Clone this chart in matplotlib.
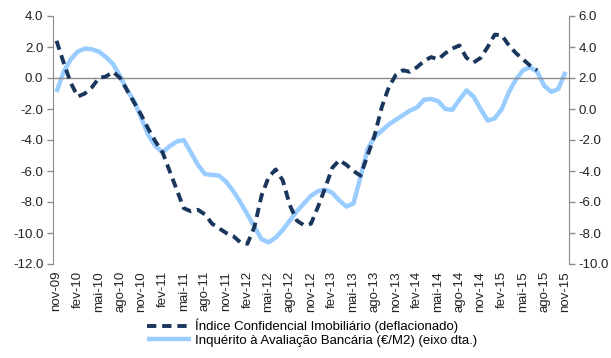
import matplotlib
matplotlib.use("Agg")
import matplotlib.pyplot as plt
import numpy as np

plt.rcParams['font.family'] = ['Liberation Sans', 'DejaVu Sans']

# meses: nov-09 .. nov-15
meses_pt = ['jan', 'fev', 'mar', 'abr', 'mai', 'jun', 'jul', 'ago', 'set', 'out', 'nov', 'dez']
n_meses = 73
rotulos = []
for k in range(n_meses):
    m = (10 + k) % 12
    a = 9 + (10 + k) // 12
    rotulos.append(f"{meses_pt[m]}-{a:02d}")

# Índice Confidencial Imobiliário (deflacionado), eixo esq.
ici = [2.4, 1.0, -0.3, -1.2, -1.0, -0.6, 0.0, 0.1, 0.4, 0.0,
       -0.8, -1.6, -2.4, -3.3, -4.1, -4.8, -6.0, -7.2, -8.4, -8.6,
       -8.5, -8.8, -9.4, -9.7, -10.0, -10.2, -10.6, -10.7, -9.6, -7.6,
       -6.4, -5.9, -6.6, -8.2, -9.2, -9.5, -9.4, -8.3, -7.1, -5.8,
       -5.3, -5.6, -6.0, -6.3, -5.0, -3.7, -1.9, -0.6, 0.2, 0.5,
       0.4, 0.7, 1.1, 1.35, 1.2, 1.6, 1.9, 2.1, 1.3, 1.0,
       1.3, 2.0, 2.8, 2.75, 2.1, 1.6, 1.2, 0.8, 0.5]

# Inquérito à Avaliação Bancária (€/M2), eixo dta.
iab = [1.1, 2.4, 3.2, 3.7, 3.9, 3.85, 3.7, 3.35, 2.9, 2.1,
       1.2, 0.5, -0.6, -1.7, -2.4, -2.8, -2.4, -2.1, -2.0, -2.8,
       -3.6, -4.2, -4.25, -4.3, -4.7, -5.3, -6.0, -6.8, -7.6, -8.4,
       -8.6, -8.3, -7.8, -7.2, -6.6, -6.1, -5.6, -5.3, -5.2, -5.4,
       -5.9, -6.3, -6.1, -4.4, -2.6, -1.8, -1.4, -1.0, -0.7, -0.4,
       -0.1, 0.1, 0.6, 0.65, 0.5, 0.0, -0.05, 0.6, 1.2, 0.8,
       0.0, -0.75, -0.6, 0.0, 1.1, 1.9, 2.5, 2.7, 2.4, 1.5,
       1.1, 1.3, 2.4]

cor_esc = '#1b365d'
cor_cla = '#99ccff'
cinza = '#8c8c8c'

fig = plt.figure(figsize=(6.11, 3.58), dpi=100)
ax = fig.add_axes([53/611, 1-264/358, (569-53)/611, (264-16)/358])
ax2 = ax.twinx()

l2, = ax2.plot(np.arange(len(iab)), iab, color=cor_cla, lw=3.2,
               solid_joinstyle='round', solid_capstyle='butt')
l1, = ax.plot(np.arange(len(ici)), ici, color=cor_esc, lw=2.8,
              linestyle=(0, (2.4, 1.5)), dash_capstyle='butt')
ax.set_zorder(ax2.get_zorder() + 1)
ax.patch.set_visible(False)

ax.axhline(0, color=cinza, lw=1, zorder=0)

ax.set_xlim(-0.5, n_meses - 0.5)
ax.set_ylim(-12, 4)
ax2.set_ylim(-10, 6)
ax.set_yticks(np.arange(-12, 4.1, 2))
ax2.set_yticks(np.arange(-10, 6.1, 2))
ax.set_yticklabels([f"{v:.1f}" for v in np.arange(-12, 4.1, 2)])
ax2.set_yticklabels([f"{v:.1f}" for v in np.arange(-10, 6.1, 2)])

pos = np.arange(0, n_meses, 3)
ax.set_xticks(pos)
ax.set_xticklabels([rotulos[p] for p in pos], rotation=90)
ax.tick_params(axis='x', length=0, pad=5, labelsize=9.5, colors='#222222')
ax.tick_params(axis='y', direction='out', length=4, width=1, color=cinza,
               labelsize=9.5, labelcolor='#222222', pad=3)
ax2.tick_params(axis='y', direction='out', length=4, width=1, color=cinza,
                labelsize=9.5, labelcolor='#222222', pad=3)

for a in (ax, ax2):
    a.spines['top'].set_visible(False)
    a.spines['bottom'].set_visible(False)
ax.spines['right'].set_visible(False)
ax2.spines['left'].set_visible(False)
ax.spines['left'].set_color(cinza)
ax2.spines['right'].set_color(cinza)

fig.legend([l1, l2],
           ['Índice Confidencial Imobiliário (deflacionado)',
            'Inquérito à Avaliação Bancária (€/M2) (eixo dta.)'],
           loc='center', bbox_to_anchor=(312/611, 1-333/358), ncol=1,
           frameon=False, fontsize=9.5, handlelength=3.3, handletextpad=0.3,
           labelspacing=0.1, borderpad=0)

fig.savefig('out.png', dpi=100)
